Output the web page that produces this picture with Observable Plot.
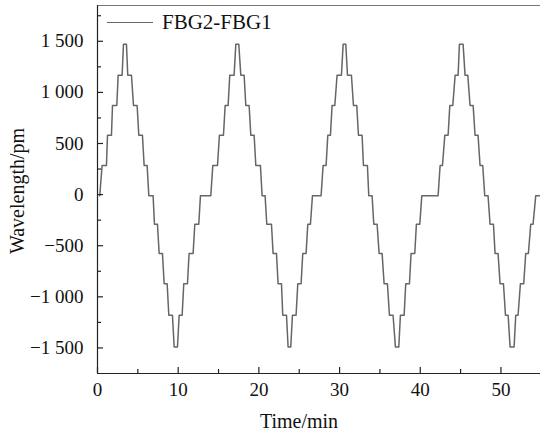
<!DOCTYPE html>
<html><head><meta charset="utf-8">
<script src="https://cdn.jsdelivr.net/npm/d3@7"></script>
<script src="https://cdn.jsdelivr.net/npm/@observablehq/plot@0.6"></script>
<style>
body{margin:0;background:#fff;}
#wrap{position:relative;width:540px;height:435px;font-family:"Liberation Serif","Times New Roman",serif;color:#111;}
#wrap svg{position:absolute;left:0;top:0;font-family:"Liberation Serif","Times New Roman",serif !important;}
#wrap svg text{font-family:"Liberation Serif","Times New Roman",serif !important;}
.lab{position:absolute;white-space:nowrap;line-height:1;}
</style></head><body><div id="wrap"></div>
<script>
const seriesName = "FBG2-FBG1";
const xTitle = "Time/min";
const yTitle = "Wavelength/pm";

// vertices of the stepped trace (time in min, wavelength in pm)
const time = [
  0.28,
  0.57, 1.11, 1.24, 1.73, 1.86, 2.39, 2.56, 3.05, 3.22, 3.59,
  3.75, 4.21, 4.46, 4.91, 5.12, 5.57, 5.78, 6.15, 6.36, 6.89,
  7.06, 7.43, 7.64, 8.05, 8.26, 8.63, 8.84, 9.29, 9.50, 9.91,
  10.12, 10.49, 10.69, 11.15, 11.35, 11.85, 12.06, 12.55, 12.76, 14.04,
  14.29, 14.87, 15.11, 15.61, 15.82, 16.19, 16.39, 16.93, 17.14, 17.51,
  17.76, 18.17, 18.38, 18.79, 19.00, 19.41, 19.62, 20.19, 20.40, 20.77,
  20.98, 21.56, 21.76, 22.18, 22.38, 22.80, 22.96, 23.42, 23.62, 23.95,
  24.16, 24.61, 24.82, 25.23, 25.44, 25.85, 26.06, 26.39, 26.64, 27.71,
  27.96, 28.33, 28.54, 28.87, 29.07, 29.41, 29.69, 30.23, 30.44, 30.77,
  30.98, 31.47, 31.72, 32.13, 32.34, 32.79, 32.96, 33.45, 33.62, 34.03,
  34.24, 34.65, 34.90, 35.27, 35.52, 35.93, 36.18, 36.63, 36.92, 37.34,
  37.54, 38.00, 38.20, 38.66, 38.86, 39.32, 39.52, 39.94, 40.19, 42.21,
  42.46, 42.75, 43.04, 43.45, 43.66, 44.03, 44.32, 44.69, 44.85, 45.31,
  45.55, 45.89, 46.17, 46.55, 46.79, 47.16, 47.41, 47.74, 47.99, 48.40,
  48.65, 49.07, 49.27, 49.64, 49.89, 50.31, 50.56, 50.89, 51.13, 51.63,
  51.83, 52.12, 52.41, 52.82, 53.07, 53.40, 53.69, 53.98, 54.31, 54.85
];
const wavelength = [
  -10,
  285, 285, 580, 580, 872, 872, 1168, 1168, 1470, 1470,
  1168, 1168, 872, 872, 580, 580, 285, 285, -10, -10,
  -290, -290, -575, -575, -872, -872, -1180, -1180, -1490, -1490,
  -1180, -1180, -872, -872, -575, -575, -290, -290, -10, -10,
  285, 285, 580, 580, 872, 872, 1168, 1168, 1470, 1470,
  1168, 1168, 872, 872, 580, 580, 285, 285, -10, -10,
  -290, -290, -575, -575, -872, -872, -1180, -1180, -1490, -1490,
  -1180, -1180, -872, -872, -575, -575, -290, -290, -10, -10,
  285, 285, 580, 580, 872, 872, 1168, 1168, 1470, 1470,
  1168, 1168, 872, 872, 580, 580, 285, 285, -10, -10,
  -290, -290, -575, -575, -872, -872, -1180, -1180, -1490, -1490,
  -1180, -1180, -872, -872, -575, -575, -290, -290, -10, -10,
  285, 285, 580, 580, 872, 872, 1168, 1168, 1470, 1470,
  1168, 1168, 872, 872, 580, 580, 285, 285, -10, -10,
  -290, -290, -575, -575, -872, -872, -1180, -1180, -1490, -1490,
  -1180, -1180, -872, -872, -575, -575, -290, -290, -10, -10
];

const xDomain = [0, 54.9];
const yDomain = [-1750, 1850];
const xTicks = [0, 10, 20, 30, 40, 50];
const xTickLabels = ["0", "10", "20", "30", "40", "50"];
const xMinor = [5, 15, 25, 35, 45];
const yTicks = [-1500, -1000, -500, 0, 500, 1000, 1500];
const yTickLabels = ["\u22121 500", "\u22121 000", "\u2212500", "0", "500", "1 000", "1 500"];
const yMinor = [-1250, -750, -250, 250, 750, 1250, 1750];

const W = 540, H = 435;
const mL = 97, mR = 0, mT = 5, mB = 62;
const plotW = W - mL - mR, plotH = H - mT - mB;
const axisColor = "#222", lineColor = "#666";
const serif = '"Liberation Serif","Times New Roman",serif';

const table = time.map((t, i) => ({t, w: wavelength[i]}));

const chart = Plot.plot({
  width: W, height: H,
  marginLeft: mL, marginRight: mR, marginTop: mT, marginBottom: mB,
  style: {"font-family": serif, "font-size": "19px", "color": "#111", "background": "transparent"},
  x: {domain: xDomain},
  y: {domain: yDomain},
  marks: [
    Plot.line(table, {x: "t", y: "w", stroke: lineColor, strokeWidth: 1.5}),
    Plot.ruleY([yDomain[1]], {stroke: "#777", strokeWidth: 1.2}),
    Plot.ruleX([xDomain[0]], {stroke: axisColor, strokeWidth: 1.2}),
    Plot.ruleY([yDomain[0]], {stroke: axisColor, strokeWidth: 1.2}),
    Plot.tickY(yTicks, {y: d => d, insetRight: plotW - 6, stroke: axisColor, strokeWidth: 1.2}),
    Plot.tickY(yMinor, {y: d => d, insetRight: plotW - 4, stroke: axisColor, strokeWidth: 1.2}),
    Plot.tickX(xTicks, {x: d => d, insetTop: plotH - 6, stroke: axisColor, strokeWidth: 1.2}),
    Plot.tickX(xMinor, {x: d => d, insetTop: plotH - 4, stroke: axisColor, strokeWidth: 1.2}),
    Plot.axisX(xTicks, {tickSize: 0, tickPadding: 9, label: null, fontSize: 19, fontFamily: serif, tickFormat: d => xTickLabels[xTicks.indexOf(d)]}),
    Plot.axisY(yTicks, {tickSize: 0, tickPadding: 14, label: null, fontSize: 19, fontFamily: serif, tickFormat: d => yTickLabels[yTicks.indexOf(d)]})
  ]
});

const wrap = document.getElementById("wrap");
wrap.appendChild(chart);

function addLabel(text, css) {
  const d = document.createElement("div");
  d.className = "lab";
  d.textContent = text;
  Object.assign(d.style, css);
  wrap.appendChild(d);
  return d;
}
addLabel(xTitle, {left: "299px", top: "411px", fontSize: "20px", transform: "translateX(-50%)"});
addLabel(yTitle, {left: "17px", top: "191px", fontSize: "20px", transform: "translate(-50%,-50%) rotate(-90deg)"});

// legend
const leg = document.createElement("div");
leg.style.cssText = "position:absolute;left:107px;top:12px;display:flex;align-items:center;";
const sw = document.createElement("span");
sw.style.cssText = `display:inline-block;width:46px;height:0;border-top:1.5px solid ${lineColor};margin-right:9px;`;
const lt = document.createElement("span");
lt.textContent = seriesName;
lt.style.cssText = "font-size:21px;line-height:1;";
leg.appendChild(sw); leg.appendChild(lt);
wrap.appendChild(leg);
</script>
</body></html>
